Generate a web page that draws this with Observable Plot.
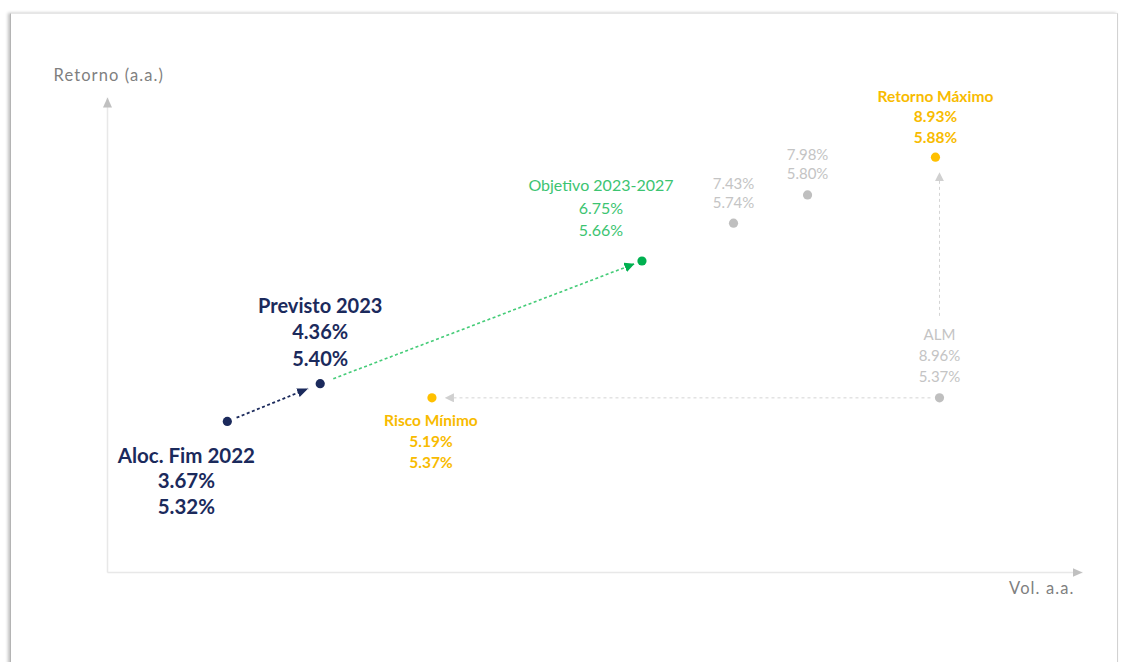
<!DOCTYPE html>
<html><head><meta charset="utf-8">
<script src="https://cdn.jsdelivr.net/npm/d3@7"></script>
<script src="https://cdn.jsdelivr.net/npm/@observablehq/plot@0.6"></script>
<style>
html,body{margin:0;padding:0;background:#fff;width:1121px;height:662px;overflow:hidden;}
#frame{position:absolute;left:10px;top:13px;width:1106px;height:700px;border-left:1px solid #b4b4b4;border-top:1px solid #e6e6e6;border-right:1px solid #d2d2d2;box-shadow:-2px 0 3px rgba(0,0,0,0.25);background:#fff;}
#chart{position:absolute;left:0;top:0;}
</style></head><body>
<div id="frame"></div><div id="chart"></div>
<script>
// ---- data ----
const pointNames = ["Aloc. Fim 2022", "Previsto 2023", "Objetivo 2023-2027", "", "", "Retorno Máximo", "ALM", "Risco Mínimo"];
const volatility = [3.67, 4.36, 6.75, 7.43, 7.98, 8.93, 8.96, 5.19];
const returns = [5.32, 5.40, 5.66, 5.74, 5.80, 5.88, 5.37, 5.37];
const pointGroups = ["aloc", "previsto", "objetivo", "fronteira", "fronteira", "maximo", "alm", "minimo"];
const linkFrom = [0, 1, 6, 6];
const linkTo = [1, 2, 7, 5];
const linkKinds = ["aloc", "objetivo", "alm", "alm-vertical"];
const xDomain = [2.78, 10.0];
const yDomain = [5.0, 6.0];
const xAxisLabel = "Vol. a.a.";
const yAxisLabel = "Retorno (a.a.)";

// ---- styles ----
const FONT = "Lato, 'Open Sans', sans-serif";
const dotColors = {aloc:"#1b2a5c", previsto:"#1b2a5c", objetivo:"#00b050", fronteira:"#bfbfbf", maximo:"#ffc000", alm:"#bfbfbf", minimo:"#ffc000"};
const textColors = {aloc:"#1b2a5c", previsto:"#1b2a5c", objetivo:"#3cc471", fronteira:"#c4c4c4", maximo:"#f8bb00", alm:"#c4c4c4", minimo:"#f8bb00"};
const labelStyles = {
  aloc:      {dx:-41, dy:23.5, fontSize:20.5, fontWeight:700, lineHeight:1.24},
  previsto:  {dx:0,   dy:-90,  fontSize:20,   fontWeight:700, lineHeight:1.33},
  objetivo:  {dx:-41, dy:-86,  fontSize:16,   fontWeight:400, lineHeight:1.41},
  fronteira: {dx:0,   dy:-48,  fontSize:15,   fontWeight:400, lineHeight:1.27},
  maximo:    {dx:0,   dy:-70,  fontSize:15.5, fontWeight:700, lineHeight:1.32},
  alm:       {dx:0,   dy:-72,  fontSize:15,   fontWeight:400, lineHeight:1.37},
  minimo:    {dx:-1,  dy:13,   fontSize:15.5, fontWeight:700, lineHeight:1.35}
};
const linkStyles = {
  "aloc":         {stroke:"#1b2a5c", width:1.8, dash:"3,2.5", start:10, end:13, head:[11,9],  headColor:"#1b2a5c"},
  "objetivo":     {stroke:"#45cc78", width:1.6, dash:"3,2.5", start:14, end:8,  head:[10,10], headColor:"#00b050"},
  "alm":          {stroke:"#d4d4d4", width:1,   dash:"3,3",   start:9,  end:13, head:[9,9],   headColor:"#d0d0d0"},
  "alm-vertical": {stroke:"#d4d4d4", width:1,   dash:"3,3",   start:82, end:15, head:[9,9],   headColor:"#d0d0d0"}
};
const axisStyle = {stroke:"#e8e8e8", width:1.5, end:-3, head:[10,9], headColor:"#c0c0c0"};

const fmt = v => d3.format(".2f")(v) + "%";
const rows = pointNames.map((name, i) => ({
  name, vol: volatility[i], ret: returns[i], group: pointGroups[i],
  label: (name ? name + "\n" : "") + fmt(volatility[i]) + "\n" + fmt(returns[i])
}));
const links = linkFrom.map((f, i) => ({
  kind: linkKinds[i],
  x1: volatility[f], y1: returns[f],
  x2: linkKinds[i] === "alm-vertical" ? volatility[f] : volatility[linkTo[i]],
  y2: returns[linkTo[i]]
}));
const axes = [
  {x1: xDomain[0], y1: yDomain[0], x2: xDomain[1], y2: yDomain[0]},
  {x1: xDomain[0], y1: yDomain[0], x2: xDomain[0], y2: yDomain[1]}
];

const textMarks = Object.keys(labelStyles).map(g => {
  const s = labelStyles[g];
  return Plot.text(rows.filter(d => d.group === g), {
    x: "vol", y: "ret", text: "label", fill: textColors[g],
    dx: s.dx, dy: s.dy, fontSize: s.fontSize, fontWeight: s.fontWeight,
    lineHeight: s.lineHeight, lineAnchor: "top", textAnchor: "middle", fontFamily: FONT
  });
});

const svg = Plot.plot({
  width: 1121, height: 662,
  marginLeft: 107, marginRight: 42, marginTop: 100, marginBottom: 90,
  x: {domain: xDomain, axis: null},
  y: {domain: yDomain, axis: null},
  color: {type: "identity"},
  style: {background: "transparent", fontFamily: FONT, overflow: "visible"},
  marks: [
    Plot.link(axes, {x1: "x1", y1: "y1", x2: "x2", y2: "y2", stroke: axisStyle.stroke, strokeWidth: axisStyle.width}),
    Plot.link(links, {x1: "x1", y1: "y1", x2: "x2", y2: "y2", stroke: d => linkStyles[d.kind].stroke}),
    Plot.dot(rows, {x: "vol", y: "ret", r: 4.6, fill: d => dotColors[d.group]}),
    ...textMarks,
    Plot.text([yAxisLabel], {frameAnchor: "top-left", textAnchor: "start", lineAnchor: "top", dx: -54, dy: -31, fontSize: 16.5, fill: "#7f7f7f", fontFamily: FONT}),
    Plot.text([xAxisLabel], {frameAnchor: "bottom-right", textAnchor: "end", lineAnchor: "top", dx: -5, dy: 10, fontSize: 16.5, fill: "#7f7f7f", fontFamily: FONT})
  ]
});
document.getElementById("chart").append(svg);

// axis titles: Century-Gothic-like wide tracking
svg.querySelectorAll("text").forEach(t => {
  if (t.textContent === yAxisLabel || t.textContent === xAxisLabel) t.setAttribute("letter-spacing", "1.1");
});

// ---- post-process: shorten links and add filled arrowheads ----
const ns = "http://www.w3.org/2000/svg";
const defs = document.createElementNS(ns, "defs");
svg.insertBefore(defs, svg.firstChild);
let mid = 0;
function addHead(color, len, wid) {
  const id = "head" + (mid++);
  const m = document.createElementNS(ns, "marker");
  m.setAttribute("id", id);
  m.setAttribute("viewBox", `0 ${-wid/2} ${len} ${wid}`);
  m.setAttribute("refX", len); m.setAttribute("refY", 0);
  m.setAttribute("markerWidth", len); m.setAttribute("markerHeight", wid);
  m.setAttribute("markerUnits", "userSpaceOnUse");
  m.setAttribute("orient", "auto");
  const p = document.createElementNS(ns, "path");
  p.setAttribute("d", `M0,${-wid/2}L${len},0L0,${wid/2}Z`);
  p.setAttribute("fill", color);
  m.appendChild(p); defs.appendChild(m);
  return id;
}
function adjust(path, s) {
  const n = (path.getAttribute("d").match(/-?\d*\.?\d+(e[-+]?\d+)?/gi) || []).map(Number);
  if (n.length < 4) return;
  let [x1, y1] = n, x2 = n[n.length - 2], y2 = n[n.length - 1];
  const L = Math.hypot(x2 - x1, y2 - y1), ux = (x2 - x1) / L, uy = (y2 - y1) / L;
  const a = s.start || 0, b = s.end || 0;
  const sx = x1 + ux * a, sy = y1 + uy * a, ex = x2 - ux * b, ey = y2 - uy * b;
  path.setAttribute("d", `M${sx},${sy}L${ex},${ey}`);
  path.setAttribute("stroke-width", s.width);
  if (s.dash) path.setAttribute("stroke-dasharray", s.dash);
  path.setAttribute("marker-end", `url(#${addHead(s.headColor, s.head[0], s.head[1])})`);
}
const linkGroups = svg.querySelectorAll('g[aria-label="link"]');
if (linkGroups.length >= 2) {
  linkGroups[0].querySelectorAll("path").forEach(p => adjust(p, axisStyle));
  linkGroups[1].querySelectorAll("path").forEach((p, i) => adjust(p, linkStyles[links[i].kind]));
}
</script>
</body></html>
